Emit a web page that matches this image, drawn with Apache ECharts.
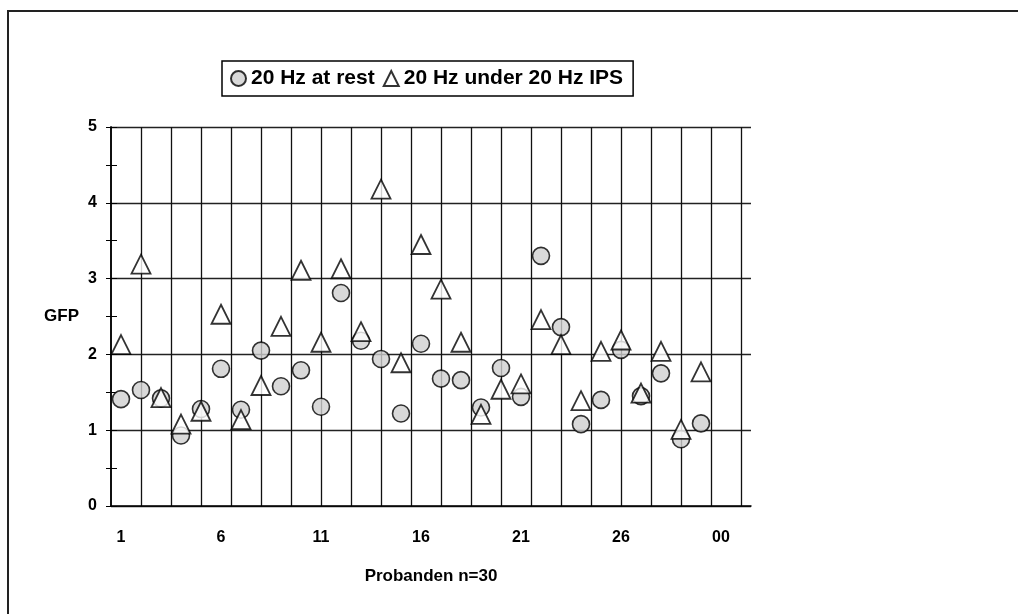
<!DOCTYPE html>
<html>
<head>
<meta charset="utf-8">
<script src="https://cdn.jsdelivr.net/npm/echarts@6/dist/echarts.min.js"></script>
<style>
  html, body { margin: 0; padding: 0; background: #fff; }
  #chart { width: 1018px; height: 614px; }
</style>
</head>
<body>
<div id="chart"></div>
<script>
// Probanden 1..30
const probanden = [1, 2, 3, 4, 5, 6, 7, 8, 9, 10, 11, 12, 13, 14, 15,
  16, 17, 18, 19, 20, 21, 22, 23, 24, 25, 26, 27, 28, 29, 30];
// GFP 20 Hz at rest (circles)
const restValues = [1.41, 1.53, 1.42, 0.93, 1.28, 1.81, 1.27, 2.05, 1.58, 1.79,
  1.31, 2.81, 2.18, 1.94, 1.22, 2.14, 1.68, 1.66, 1.30, 1.82,
  1.44, 3.30, 2.36, 1.08, 1.40, 2.06, 1.45, 1.75, 0.88, 1.09];
// GFP 20 Hz under 20 Hz IPS (triangles)
const ipsValues = [2.13, 3.19, 1.43, 1.08, 1.25, 2.53, 1.14, 1.59, 2.37, 3.11,
  2.16, 3.13, 2.30, 4.18, 1.89, 3.45, 2.86, 2.16, 1.21, 1.54,
  1.61, 2.46, 2.13, 1.39, 2.04, 2.19, 1.49, 2.04, 1.01, 1.77];
// x tick labels as printed
const xTickValues = [1, 6, 11, 16, 21, 26, 31];
const xTickLabels = ['1', '6', '11', '16', '21', '26', '00'];

const font = 'Liberation Sans, Arial, sans-serif';
const ink = '#000';
const plot = { left: 111, right: 267, top: 127, bottom: 108 };

const chart = echarts.init(document.getElementById('chart'), null, { renderer: 'canvas' });

chart.setOption({
  backgroundColor: '#fff',
  animation: false,
  graphic: [{
    type: 'rect',
    shape: { x: 8, y: 11, width: 1100, height: 700 },
    style: { fill: 'none', stroke: '#222', lineWidth: 2 },
    silent: true
  }],
  legend: {
    left: 222,
    top: 61,
    orient: 'horizontal',
    borderColor: '#000',
    borderWidth: 1.5,
    borderRadius: 0,
    padding: [7, 10, 7, 8],
    itemGap: 8,
    itemWidth: 15,
    itemHeight: 15,
    textStyle: { fontFamily: font, fontSize: 21, fontWeight: 'bold', color: ink }
  },
  // grid 1 carries the vertical grid lines and the inner y ticks
  grid: [Object.assign({}, plot), Object.assign({}, plot)],
  xAxis: [{
    type: 'value',
    gridIndex: 0,
    min: 0.5,
    max: 32.5,
    axisLine: { show: true, lineStyle: { color: ink, width: 1.5 } },
    axisTick: { show: false },
    splitLine: { show: false },
    axisLabel: {
      customValues: xTickValues,
      formatter: v => xTickLabels[xTickValues.indexOf(v)] ?? '',
      margin: 24,
      fontFamily: font, fontSize: 16, fontWeight: 'bold', color: ink
    },
    name: 'Probanden n=30',
    nameLocation: 'middle',
    nameGap: 62,
    nameTextStyle: { fontFamily: font, fontSize: 17, fontWeight: 'bold', color: ink }
  }, {
    // vertical grid lines every 1.5, shifted by 0.5
    type: 'value',
    gridIndex: 1,
    min: 0,
    max: 32,
    interval: 1.5,
    position: 'bottom',
    axisLine: { show: false },
    axisTick: { show: false },
    axisLabel: { show: false },
    splitLine: { show: true, showMinLine: false, showMaxLine: false, lineStyle: { color: '#111', width: 1.3 } }
  }],
  yAxis: [{
    type: 'value',
    gridIndex: 0,
    min: 0,
    max: 5,
    interval: 1,
    axisLine: { show: true, lineStyle: { color: ink, width: 1.5 } },
    axisTick: { show: true, length: 5, lineStyle: { color: ink } },
    minorTick: { show: true, splitNumber: 2, length: 5, lineStyle: { color: ink } },
    splitLine: { show: true, lineStyle: { color: '#222', width: 1.3 } },
    axisLabel: { margin: 14, fontFamily: font, fontSize: 16, fontWeight: 'bold', color: ink },
    name: 'GFP',
    nameLocation: 'middle',
    nameRotate: 0,
    nameGap: 32,
    nameTextStyle: { fontFamily: font, fontSize: 17, fontWeight: 'bold', color: ink }
  }, {
    // inner half-step ticks
    type: 'value',
    gridIndex: 1,
    min: 0,
    max: 5,
    interval: 1,
    position: 'left',
    axisLine: { show: true, onZero: false, lineStyle: { color: ink, width: 1.5 } },
    axisTick: { show: true, inside: true, length: 6, lineStyle: { color: ink } },
    minorTick: { show: true, splitNumber: 2, length: 6, lineStyle: { color: ink } },
    axisLabel: { show: false },
    splitLine: { show: false }
  }],
  series: [{
    name: '20 Hz at rest',
    type: 'scatter',
    xAxisIndex: 0,
    yAxisIndex: 0,
    symbol: 'circle',
    symbolSize: 17,
    itemStyle: { color: '#cfcfcf', borderColor: ink, borderWidth: 1.6 },
    data: probanden.map((p, i) => [p, restValues[i]])
  }, {
    name: '20 Hz under 20 Hz IPS',
    type: 'scatter',
    xAxisIndex: 0,
    yAxisIndex: 0,
    symbol: 'triangle',
    symbolSize: 19,
    itemStyle: { color: '#fff', borderColor: ink, borderWidth: 1.8 },
    data: probanden.map((p, i) => [p, ipsValues[i]])
  }]
});
</script>
</body>
</html>
